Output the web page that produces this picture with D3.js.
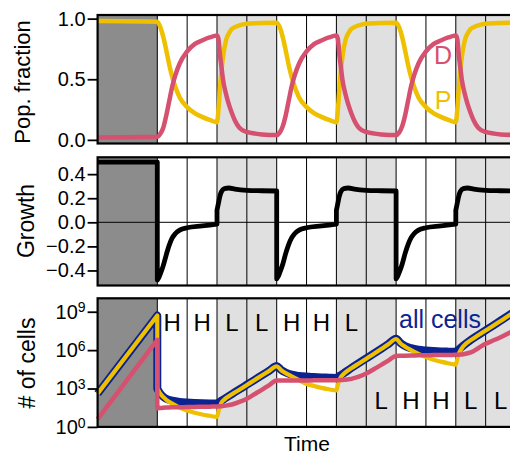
<!DOCTYPE html>
<html>
<head>
<meta charset="utf-8">
<script src="https://cdn.jsdelivr.net/npm/d3@7"></script>
<style>
  html, body { margin: 0; padding: 0; background: #fff; }
  svg { display: block; font-family: "Liberation Sans", Arial, Helvetica, sans-serif; }
</style>
</head>
<body>
<svg id="chart" width="510" height="456"></svg>
<script>
// ---- environment schedule (time in switching periods) ----
const preculture = [-2, 0];                       // dark block before switching starts
const lowPeriods = [[2, 4], [6, 8], [10, 12]];    // shaded "L" stretches
const periodBoundaries = [0, 1, 2, 3, 4, 5, 6, 7, 8, 9, 10, 11, 12];
const labelsTopRow = ["H", "H", "L", "L", "H", "H", "L"];   // periods 0..6
const labelsBottomRow = ["L", "H", "H", "L", "L"];          // periods 7..11

// ---- population fractions ----
const fracTime = [-2, 0,
  0.1, 0.2, 0.3, 0.4, 0.5, 0.6, 0.75, 1, 1.25, 1.5, 1.75, 2,
  2.05, 2.1, 2.15, 2.2, 2.3, 2.4, 2.5, 2.6, 2.75, 3, 3.5, 4,
  4.1, 4.2, 4.3, 4.4, 4.5, 4.6, 4.75, 5, 5.25, 5.5, 5.75, 6,
  6.05, 6.1, 6.15, 6.2, 6.3, 6.4, 6.5, 6.6, 6.75, 7, 7.5, 8,
  8.1, 8.2, 8.3, 8.4, 8.5, 8.6, 8.75, 9, 9.25, 9.5, 9.75, 10,
  10.05, 10.1, 10.15, 10.2, 10.3, 10.4, 10.5, 10.6, 10.75, 11, 11.5, 12];
const fracP = [0.98, 0.975,
  0.93, 0.85, 0.74, 0.62, 0.52, 0.44, 0.35, 0.27, 0.22, 0.19, 0.165, 0.145,
  0.25, 0.42, 0.57, 0.68, 0.82, 0.88, 0.915, 0.93, 0.945, 0.958, 0.965, 0.967,
  0.93, 0.85, 0.74, 0.62, 0.52, 0.44, 0.35, 0.27, 0.22, 0.19, 0.165, 0.145,
  0.25, 0.42, 0.57, 0.68, 0.82, 0.88, 0.915, 0.93, 0.945, 0.958, 0.965, 0.967,
  0.93, 0.85, 0.74, 0.62, 0.52, 0.44, 0.35, 0.27, 0.22, 0.19, 0.165, 0.145,
  0.25, 0.42, 0.57, 0.68, 0.82, 0.88, 0.915, 0.93, 0.945, 0.958, 0.965, 0.967];
const fracD = [0.02, 0.025,
  0.05, 0.1, 0.2, 0.32, 0.44, 0.53, 0.63, 0.73, 0.79, 0.82, 0.845, 0.86,
  0.83, 0.7, 0.6, 0.5, 0.38, 0.29, 0.22, 0.16, 0.1, 0.065, 0.045, 0.04,
  0.06, 0.11, 0.2, 0.32, 0.44, 0.53, 0.63, 0.73, 0.79, 0.82, 0.845, 0.86,
  0.83, 0.7, 0.6, 0.5, 0.38, 0.29, 0.22, 0.16, 0.1, 0.065, 0.045, 0.04,
  0.06, 0.11, 0.2, 0.32, 0.44, 0.53, 0.63, 0.73, 0.79, 0.82, 0.845, 0.86,
  0.83, 0.7, 0.6, 0.5, 0.38, 0.29, 0.22, 0.16, 0.1, 0.065, 0.045, 0.04];

// ---- population growth rate (repeated time = jump) ----
const growthTime = [-2, 0,
  0, 0.05, 0.1, 0.2, 0.3, 0.4, 0.5, 0.6, 0.75, 1, 1.5, 2,
  2, 2.05, 2.1, 2.15, 2.25, 2.4, 2.6, 3, 3.5, 4,
  4, 4.05, 4.1, 4.2, 4.3, 4.4, 4.5, 4.6, 4.75, 5, 5.5, 6,
  6, 6.05, 6.1, 6.15, 6.25, 6.4, 6.6, 7, 7.5, 8,
  8, 8.05, 8.1, 8.2, 8.3, 8.4, 8.5, 8.6, 8.75, 9, 9.5, 10,
  10, 10.05, 10.1, 10.15, 10.25, 10.4, 10.6, 11, 11.5, 12];
const growth = [0.5, 0.5,
  -0.48, -0.46, -0.43, -0.36, -0.27, -0.19, -0.13, -0.095, -0.065, -0.045, -0.03, -0.015,
  0.1, 0.16, 0.22, 0.255, 0.28, 0.285, 0.275, 0.265, 0.262, 0.26,
  -0.47, -0.45, -0.42, -0.35, -0.26, -0.185, -0.13, -0.095, -0.065, -0.045, -0.03, -0.015,
  0.1, 0.16, 0.22, 0.255, 0.28, 0.285, 0.275, 0.265, 0.262, 0.26,
  -0.47, -0.45, -0.42, -0.35, -0.26, -0.185, -0.13, -0.095, -0.065, -0.045, -0.03, -0.015,
  0.1, 0.16, 0.22, 0.255, 0.28, 0.285, 0.275, 0.265, 0.262, 0.26];

// ---- cell numbers, log10 (repeated time = jump) ----
const cellTime = [-2, 0,
  0, 0.1, 0.2, 0.3, 0.5, 0.75, 1, 1.25, 1.5, 1.75, 2,
  2.05, 2.1, 2.15, 2.25, 2.5, 2.75, 3, 3.25, 3.5, 3.75, 4,
  4.15, 4.3, 4.5, 4.75, 5, 5.25, 5.5, 5.75, 6,
  6.05, 6.1, 6.15, 6.25, 6.5, 6.75, 7, 7.25, 7.5, 7.75, 8,
  8.15, 8.3, 8.5, 8.75, 9, 9.25, 9.5, 9.75, 10,
  10.05, 10.1, 10.15, 10.25, 10.5, 10.75, 11, 11.25, 11.5, 11.75, 12];
const log10All = [2.6, 8.7,
  3.0, 2.6, 2.35, 2.2, 2.05, 1.95, 1.9, 1.87, 1.85, 1.83, 1.82,
  1.9, 1.97, 2.05, 2.2, 2.57, 2.93, 3.3, 3.66, 4.03, 4.39, 4.75,
  4.45, 4.25, 4.08, 3.98, 3.93, 3.9, 3.87, 3.85, 3.83,
  3.9, 3.98, 4.05, 4.2, 4.6, 4.98, 5.35, 5.72, 6.1, 6.49, 6.88,
  6.55, 6.32, 6.15, 6.03, 5.97, 5.93, 5.9, 5.88, 5.87,
  5.96, 6.05, 6.15, 6.35, 6.8, 7.18, 7.55, 7.92, 8.3, 8.68, 9.05];
const log10P = [2.6, 8.7,
  3.0, 2.6, 2.33, 2.12, 1.82, 1.5, 1.28, 1.1, 0.97, 0.87, 0.78,
  1.2, 1.6, 1.9, 2.15, 2.55, 2.91, 3.28, 3.65, 4.02, 4.38, 4.74,
  4.43, 4.2, 3.95, 3.65, 3.35, 3.2, 3.05, 2.94, 2.85,
  3.3, 3.65, 3.9, 4.15, 4.58, 4.96, 5.33, 5.7, 6.08, 6.48, 6.87,
  6.52, 6.27, 6.0, 5.7, 5.45, 5.25, 5.1, 4.97, 4.86,
  5.3, 5.7, 5.95, 6.3, 6.78, 7.16, 7.53, 7.9, 8.28, 8.66, 9.03];
const log10D = [0.6, 6.8,
  1.45, 1.47, 1.5, 1.51, 1.53, 1.54, 1.55, 1.56, 1.57, 1.58, 1.6,
  1.6, 1.61, 1.62, 1.65, 1.75, 1.95, 2.2, 2.55, 2.9, 3.27, 3.62,
  3.62, 3.62, 3.62, 3.63, 3.63, 3.64, 3.64, 3.65, 3.65,
  3.65, 3.66, 3.66, 3.68, 3.75, 3.92, 4.17, 4.5, 4.85, 5.2, 5.55,
  5.56, 5.57, 5.58, 5.59, 5.6, 5.61, 5.62, 5.62, 5.63,
  5.63, 5.64, 5.65, 5.68, 5.82, 6.15, 6.5, 6.75, 7.0, 7.3, 7.6];

// ---- axis ticks ----
const fracTicks = [0, 0.5, 1];
const growthTicks = [-0.4, -0.2, 0, 0.2, 0.4];
const cellTicks = [1, 1e3, 1e6, 1e9];

// ---- styling ----
const COL_P = "#efc000";
const COL_D = "#d6506f";
const COL_ALL = "#0b2390";
const COL_DARK = "#8c8c8c";
const COL_LIGHT = "#e0e0e0";

const svg = d3.select("#chart");
const x = d3.scaleLinear().domain([-2, 12]).range([97.6, 515.5]);

const yFrac = d3.scaleLinear().domain([-0.03, 1.03]).range([143.5, 15]);
const yGrowth = d3.scaleLinear().domain([-0.525, 0.54]).range([285.5, 157.3]);
const yCells = d3.scaleLog().domain([1, Math.pow(10, 10.05)]).range([426.9, 298.3]);

// Build one path through several continuous pieces; a repeated time starts a new piece
// that is joined to the previous one by a straight (vertical) step.
function piecewisePath(times, values, yScale) {
  const line = d3.line()
    .x(d => x(d[0]))
    .y(d => yScale(d[1]))
    .curve(d3.curveMonotoneX);
  const pieces = [];
  let cur = [];
  times.forEach((t, i) => {
    if (i > 0 && t === times[i - 1]) { pieces.push(cur); cur = []; }
    cur.push([t, values[i]]);
  });
  pieces.push(cur);
  return pieces.map((p, i) => i === 0 ? line(p) : line(p).replace(/^M/, "L")).join("");
}

function panelBackground(g, yScale) {
  const [yb, yt] = yScale.range();
  g.append("rect")
    .attr("x", x(preculture[0])).attr("y", yt)
    .attr("width", x(preculture[1]) - x(preculture[0])).attr("height", yb - yt)
    .attr("fill", COL_DARK);
  g.selectAll("rect.low").data(lowPeriods).enter().append("rect")
    .attr("class", "low")
    .attr("x", d => x(d[0])).attr("y", yt)
    .attr("width", d => x(d[1]) - x(d[0])).attr("height", yb - yt)
    .attr("fill", COL_LIGHT);
}

function panelGrid(g, yScale) {
  const [yb, yt] = yScale.range();
  g.selectAll("line.vb").data(periodBoundaries).enter().append("line")
    .attr("class", "vb")
    .attr("x1", d => x(d)).attr("x2", d => x(d))
    .attr("y1", yt).attr("y2", yb)
    .attr("stroke", "#000").attr("stroke-width", 1);
}

function panelFrame(g, yScale) {
  const [yb, yt] = yScale.range();
  g.append("rect")
    .attr("x", x(-2)).attr("y", yt)
    .attr("width", x(12) - x(-2)).attr("height", yb - yt)
    .attr("fill", "none").attr("stroke", "#000").attr("stroke-width", 2.2);
}

function leftAxis(g, yScale, ticks, fmt) {
  const ax = g.append("g")
    .attr("transform", `translate(${x(-2)},0)`)
    .call(d3.axisLeft(yScale).tickValues(ticks).tickSize(10).tickPadding(2).tickFormat(fmt));
  ax.select(".domain").remove();
  ax.selectAll(".tick line").attr("stroke", "#000").attr("stroke-width", 1.8);
  ax.selectAll(".tick text")
    .attr("fill", "#000")
    .style("font-size", "20px")
    .style("font-family", "'Liberation Sans', Arial, Helvetica, sans-serif");
  return ax;
}

function curve(g, times, values, yScale, color, width) {
  g.append("path")
    .attr("d", piecewisePath(times, values, yScale))
    .attr("fill", "none")
    .attr("stroke", color)
    .attr("stroke-width", width)
    .attr("stroke-linejoin", "round")
    .attr("stroke-linecap", "butt");
}

// ===== Panel 1: population fractions =====
const g1 = svg.append("g");
panelBackground(g1, yFrac);
panelGrid(g1, yFrac);
curve(g1, fracTime, fracP, yFrac, COL_P, 4.5);
curve(g1, fracTime, fracD, yFrac, COL_D, 4.5);
g1.append("text").attr("x", 443).attr("y", 63.5).attr("text-anchor", "middle")
  .attr("fill", COL_D).style("font-size", "25px").text("D");
g1.append("text").attr("x", 443).attr("y", 108.5).attr("text-anchor", "middle")
  .attr("fill", COL_P).style("font-size", "25px").text("P");
panelFrame(g1, yFrac);
leftAxis(g1, yFrac, fracTicks, d3.format(".1f"));

// ===== Panel 2: growth =====
const g2 = svg.append("g");
panelBackground(g2, yGrowth);
panelGrid(g2, yGrowth);
g2.append("line")
  .attr("x1", x(-2)).attr("x2", x(12))
  .attr("y1", yGrowth(0)).attr("y2", yGrowth(0))
  .attr("stroke", "#000").attr("stroke-width", 1);
curve(g2, growthTime, growth, yGrowth, "#000", 4.8);
panelFrame(g2, yGrowth);
leftAxis(g2, yGrowth, growthTicks, d3.format(".1f"));

// ===== Panel 3: cell numbers =====
const g3 = svg.append("g");
panelBackground(g3, yCells);
panelGrid(g3, yCells);
const pow10 = arr => arr.map(v => Math.pow(10, v));
curve(g3, cellTime, pow10(log10All), yCells, COL_ALL, 8);
curve(g3, cellTime, pow10(log10P), yCells, COL_P, 4.2);
curve(g3, cellTime, pow10(log10D), yCells, COL_D, 4.5);

g3.selectAll("text.top").data(labelsTopRow).enter().append("text")
  .attr("class", "top")
  .attr("x", (d, i) => x(i + 0.5)).attr("y", 330.5)
  .attr("text-anchor", "middle").attr("fill", "#000")
  .style("font-size", "24px").text(d => d);
g3.selectAll("text.bot").data(labelsBottomRow).enter().append("text")
  .attr("class", "bot")
  .attr("x", (d, i) => x(i + 7.5)).attr("y", 408.5)
  .attr("text-anchor", "middle").attr("fill", "#000")
  .style("font-size", "24px").text(d => d);
g3.append("text").attr("x", 440).attr("y", 328).attr("text-anchor", "middle")
  .attr("fill", COL_ALL).style("font-size", "25px").text("all cells");
panelFrame(g3, yCells);
const ax3 = leftAxis(g3, yCells, cellTicks, () => "");
ax3.selectAll(".tick text").each(function (d) {
  const t = d3.select(this);
  t.text(null);
  t.append("tspan").text("10");
  t.append("tspan").attr("dy", "-0.45em").style("font-size", "14px")
    .text(Math.round(Math.log10(d)));
});

// ===== Axis titles =====
const title = (tx, ty, rot, txt, size) => svg.append("text")
  .attr("transform", `translate(${tx},${ty}) rotate(${rot})`)
  .attr("text-anchor", "middle").attr("fill", "#000")
  .style("font-size", size + "px").text(txt);
title(29.5, 82, -90, "Pop. fraction", 22);
title(33.5, 221, -90, "Growth", 23);
title(35, 363, -90, "# of cells", 23);
title(307, 451, 0, "Time", 21);
</script>
</body>
</html>
